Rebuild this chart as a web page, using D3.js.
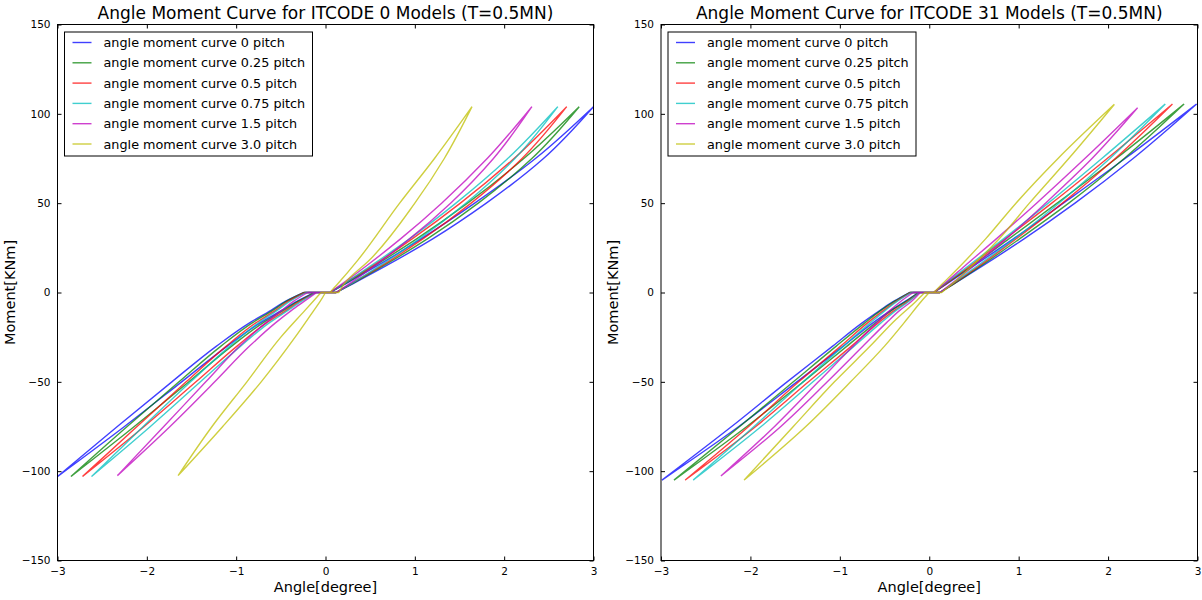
<!DOCTYPE html>
<html>
<head>
<meta charset="utf-8">
<script src="https://cdn.jsdelivr.net/npm/d3@7"></script>
<style>
  body { margin: 0; background: #fff; }
  text { font-family: "DejaVu Sans", sans-serif; fill: #000; }
</style>
</head>
<body>
<script>
const pitches = ['0', '0.25', '0.5', '0.75', '1.5', '3.0'];
const titles = [
  'Angle Moment Curve for ITCODE 0 Models (T=0.5MN)',
  'Angle Moment Curve for ITCODE 31 Models (T=0.5MN)'
];
const xTicks = [-3, -2, -1, 0, 1, 2, 3];
const yTicks = [-150, -100, -50, 0, 50, 100, 150];

// ITCODE 0 loops, [angle, moment]
const it0Pitch0 = [[0.12,0],[0.31,5],[0.68,15],[1.20,30],[1.80,50],[2.44,75],[3.0,104],
  [2.35,75],[1.67,50],[1.07,30],[0.58,15],[0.23,5],[0.05,0],
  [-0.24,0],[-0.45,-5],[-0.61,-10],[-0.85,-17],[-1.22,-30],[-1.72,-50],[-2.33,-75],[-3.0,-103],
  [-2.25,-75],[-1.61,-50],[-1.10,-30],[-0.73,-17],[-0.49,-10],[-0.32,-5],[-0.12,0],[0.12,0]];
const it0Pitch025 = [[0.12,0],[0.30,5],[0.65,15],[1.14,30],[1.71,50],[2.31,75],[2.84,104],
  [2.22,75],[1.59,50],[1.02,30],[0.55,15],[0.22,5],[0.05,0],
  [-0.24,0],[-0.44,-5],[-0.59,-10],[-0.82,-17],[-1.17,-30],[-1.64,-50],[-2.22,-75],[-2.85,-103],
  [-2.14,-75],[-1.53,-50],[-1.05,-30],[-0.70,-17],[-0.47,-10],[-0.31,-5],[-0.12,0],[0.12,0]];
const it0Pitch05 = [[0.12,0],[0.29,5],[0.63,15],[1.09,30],[1.63,50],[2.20,75],[2.70,104],
  [2.11,75],[1.51,50],[0.97,30],[0.53,15],[0.21,5],[0.05,0],
  [-0.23,0],[-0.42,-5],[-0.56,-10],[-0.78,-17],[-1.11,-30],[-1.56,-50],[-2.11,-75],[-2.72,-103],
  [-2.03,-75],[-1.45,-50],[-0.99,-30],[-0.66,-17],[-0.44,-10],[-0.29,-5],[-0.11,0],[0.12,0]];
const it0Pitch075 = [[0.12,0],[0.29,5],[0.61,15],[1.05,30],[1.57,50],[2.12,75],[2.60,104],
  [2.04,75],[1.46,50],[0.94,30],[0.51,15],[0.21,5],[0.05,0],
  [-0.22,0],[-0.40,-5],[-0.54,-10],[-0.75,-17],[-1.07,-30],[-1.51,-50],[-2.04,-75],[-2.62,-103],
  [-1.96,-75],[-1.40,-50],[-0.95,-30],[-0.63,-17],[-0.42,-10],[-0.27,-5],[-0.11,0],[0.12,0]];
const it0Pitch15 = [[0.12,0],[0.27,5],[0.55,15],[0.94,30],[1.40,50],[1.88,75],[2.31,104],
  [1.81,75],[1.30,50],[0.84,30],[0.46,15],[0.19,5],[0.05,0],
  [-0.20,0],[-0.36,-5],[-0.49,-10],[-0.67,-17],[-0.96,-30],[-1.34,-50],[-1.81,-75],[-2.33,-102.5],
  [-1.74,-75],[-1.24,-50],[-0.85,-30],[-0.56,-17],[-0.38,-10],[-0.24,-5],[-0.10,0],[0.12,0]];
const it0Pitch30 = [[0.15,0],[0.21,5],[0.49,18],[1.00,50],[1.33,75],[1.64,104],
  [1.22,75],[0.83,50],[0.36,18],[0.14,5],[0.05,0],
  [-0.05,0],[-0.14,-5],[-0.23,-10],[-0.50,-25],[-0.88,-50],[-1.27,-75],[-1.65,-102.5],
  [-1.15,-75],[-0.72,-50],[-0.34,-25],[-0.13,-10],[-0.06,-5],[0.0,0],[0.15,0]];

// ITCODE 31 loops, [angle, moment]
const it31Pitch0 = [[0.12,0],[0.28,5],[0.60,15],[1.06,30],[1.63,50],[2.28,75],[2.99,105.5],
  [2.19,75],[1.50,50],[0.94,30],[0.50,15],[0.20,5],[0.05,0],
  [-0.22,0],[-0.40,-5],[-0.55,-10],[-0.75,-17],[-1.08,-30],[-1.59,-50],[-2.21,-75],[-2.99,-105],
  [-2.13,-75],[-1.48,-50],[-0.96,-30],[-0.63,-17],[-0.43,-10],[-0.27,-5],[-0.12,0],[0.12,0]];
const it31Pitch025 = [[0.12,0],[0.28,5],[0.58,15],[1.01,30],[1.56,50],[2.18,75],[2.85,105.5],
  [2.09,75],[1.43,50],[0.89,30],[0.48,15],[0.19,5],[0.05,0],
  [-0.22,0],[-0.39,-5],[-0.54,-10],[-0.72,-17],[-1.04,-30],[-1.52,-50],[-2.12,-75],[-2.855,-105],
  [-2.04,-75],[-1.41,-50],[-0.92,-30],[-0.60,-17],[-0.42,-10],[-0.26,-5],[-0.12,0],[0.12,0]];
const it31Pitch05 = [[0.12,0],[0.27,5],[0.56,15],[0.97,30],[1.49,50],[2.08,75],[2.72,105.5],
  [1.99,75],[1.37,50],[0.85,30],[0.46,15],[0.19,5],[0.05,0],
  [-0.21,0],[-0.37,-5],[-0.51,-10],[-0.69,-17],[-0.99,-30],[-1.46,-50],[-2.02,-75],[-2.73,-105],
  [-1.94,-75],[-1.35,-50],[-0.87,-30],[-0.57,-17],[-0.39,-10],[-0.24,-5],[-0.11,0],[0.12,0]];
const it31Pitch075 = [[0.12,0],[0.26,5],[0.54,15],[0.95,30],[1.45,50],[2.02,75],[2.64,105.5],
  [1.93,75],[1.33,50],[0.83,30],[0.44,15],[0.18,5],[0.05,0],
  [-0.20,0],[-0.36,-5],[-0.49,-10],[-0.66,-17],[-0.96,-30],[-1.41,-50],[-1.96,-75],[-2.64,-105],
  [-1.88,-75],[-1.30,-50],[-0.84,-30],[-0.54,-17],[-0.37,-10],[-0.23,-5],[-0.11,0],[0.12,0]];
const it31Pitch15 = [[0.12,0],[0.25,5],[0.50,15],[0.86,30],[1.30,50],[1.82,75],[2.33,103.4],
  [1.74,75],[1.20,50],[0.75,30],[0.40,15],[0.17,5],[0.05,0],
  [-0.18,0],[-0.32,-5],[-0.44,-10],[-0.59,-17],[-0.85,-30],[-1.24,-50],[-1.73,-75],[-2.33,-102.7],
  [-1.66,-75],[-1.14,-50],[-0.74,-30],[-0.48,-17],[-0.33,-10],[-0.20,-5],[-0.10,0],[0.12,0]];
const it31Pitch30 = [[0.14,0],[0.26,5],[0.48,15],[0.78,30],[1.12,50],[1.56,75],[2.07,105.3],
  [1.44,75],[0.97,50],[0.63,30],[0.35,15],[0.15,5],[0.05,0],
  [-0.05,0],[-0.15,-5],[-0.37,-15],[-0.66,-30],[-1.06,-50],[-1.52,-75],[-2.07,-105],
  [-1.38,-75],[-0.88,-50],[-0.50,-30],[-0.25,-15],[-0.09,-5],[0.0,0],[0.14,0]];

const colors = ['#0000ff', '#008000', '#ff0000', '#00bfbf', '#bf00bf', '#bfbf00'];

const panels = [
  { left: 57.5, right: 593.5, title: titles[0],
    loops: [it0Pitch0, it0Pitch025, it0Pitch05, it0Pitch075, it0Pitch15, it0Pitch30] },
  { left: 661, right: 1197.5, title: titles[1],
    loops: [it31Pitch0, it31Pitch025, it31Pitch05, it31Pitch075, it31Pitch15, it31Pitch30] }
];
const plotTop = 24.5;
const plotBottom = 560.5;

const svg = d3.select('body')
  .append('svg')
  .attr('width', 1202)
  .attr('height', 600);

svg.append('rect').attr('width', 1202).attr('height', 600).attr('fill', '#fff');

panels.forEach((p, pi) => {
  const x = d3.scaleLinear().domain([-3, 3]).range([p.left, p.right]);
  const y = d3.scaleLinear().domain([-150, 150]).range([plotBottom, plotTop]);
  const g = svg.append('g');

  g.append('clipPath').attr('id', `clip${pi}`)
    .append('rect')
    .attr('x', p.left).attr('y', plotTop)
    .attr('width', p.right - p.left).attr('height', plotBottom - plotTop);

  const smooth = d3.line().x(d => x(d[0])).y(d => y(d[1])).curve(d3.curveMonotoneY);
  const straight = d3.line().x(d => x(d[0])).y(d => y(d[1]));

  // split a loop where the moment turns, so every run is monotone in y
  const loopPath = pts => {
    const runs = [];
    let run = [pts[0]];
    let dir = 0;
    for (let i = 1; i < pts.length; i++) {
      const s = Math.sign(pts[i][1] - pts[i - 1][1]);
      if (s !== dir && run.length > 1) { runs.push(run); run = [pts[i - 1]]; }
      dir = s;
      run.push(pts[i]);
    }
    runs.push(run);
    return runs.map(r => (r.length > 2 && r[0][1] !== r[1][1]) ? smooth(r) : straight(r)).join('');
  };

  g.append('g')
    .attr('clip-path', `url(#clip${pi})`)
    .selectAll('path')
    .data(p.loops)
    .join('path')
    .attr('d', d => loopPath(d))
    .attr('fill', 'none')
    .attr('stroke', (d, i) => colors[i])
    .attr('stroke-opacity', 0.75)
    .attr('stroke-width', 1.4)
    .attr('stroke-linejoin', 'round');

  // axes, classic matplotlib style: ticks inside on all sides
  const fmt = d => String(d).replace('-', '\u2212');
  g.append('g')
    .attr('transform', `translate(0,${plotBottom})`)
    .call(d3.axisBottom(x).tickValues(xTicks).tickSizeInner(-4).tickSizeOuter(0).tickPadding(7).tickFormat(fmt))
    .call(a => a.select('.domain').remove())
    .selectAll('text').attr('font-size', 10.5).attr('font-family', 'DejaVu Sans');
  g.append('g')
    .attr('transform', `translate(0,${plotTop})`)
    .call(d3.axisTop(x).tickValues(xTicks).tickSizeInner(-4).tickSizeOuter(0).tickFormat(''))
    .call(a => a.select('.domain').remove());
  g.append('g')
    .attr('transform', `translate(${p.left},0)`)
    .call(d3.axisLeft(y).tickValues(yTicks).tickSizeInner(-4).tickSizeOuter(0).tickPadding(7).tickFormat(fmt))
    .call(a => a.select('.domain').remove())
    .selectAll('text').attr('font-size', 10.5).attr('font-family', 'DejaVu Sans');
  g.append('g')
    .attr('transform', `translate(${p.right},0)`)
    .call(d3.axisRight(y).tickValues(yTicks).tickSizeInner(-4).tickSizeOuter(0).tickFormat(''))
    .call(a => a.select('.domain').remove());
  g.selectAll('.tick line').attr('stroke', '#000');

  g.append('rect')
    .attr('x', p.left).attr('y', plotTop)
    .attr('width', p.right - p.left).attr('height', plotBottom - plotTop)
    .attr('fill', 'none')
    .attr('stroke', '#000')
    .attr('stroke-width', 1);

  const cx = (p.left + p.right) / 2;
  g.append('text')
    .attr('x', cx).attr('y', 19)
    .attr('text-anchor', 'middle')
    .attr('font-size', 17)
    .text(p.title);

  g.append('text')
    .attr('x', cx).attr('y', 592)
    .attr('text-anchor', 'middle')
    .attr('font-size', 14.5)
    .text('Angle[degree]');

  g.append('text')
    .attr('transform', `translate(${p.left - 43},${(plotTop + plotBottom) / 2}) rotate(-90)`)
    .attr('text-anchor', 'middle')
    .attr('font-size', 14.5)
    .text('Moment[KNm]');

  // legend
  const lg = g.append('g').attr('transform', `translate(${p.left + 7},${plotTop + 7.5})`);
  lg.append('rect')
    .attr('width', 248).attr('height', 124)
    .attr('fill', '#fff')
    .attr('stroke', '#000')
    .attr('stroke-width', 1);
  pitches.forEach((pt, i) => {
    const yy = 10.5 + i * 20.3;
    lg.append('line')
      .attr('x1', 8).attr('x2', 27)
      .attr('y1', yy).attr('y2', yy)
      .attr('stroke', colors[i])
      .attr('stroke-opacity', 0.75)
      .attr('stroke-width', 1.4);
    lg.append('text')
      .attr('x', 39).attr('y', yy + 4.5)
      .attr('font-size', 12.8)
      .text(`angle moment curve ${pt} pitch`);
  });
});
</script>
</body>
</html>
